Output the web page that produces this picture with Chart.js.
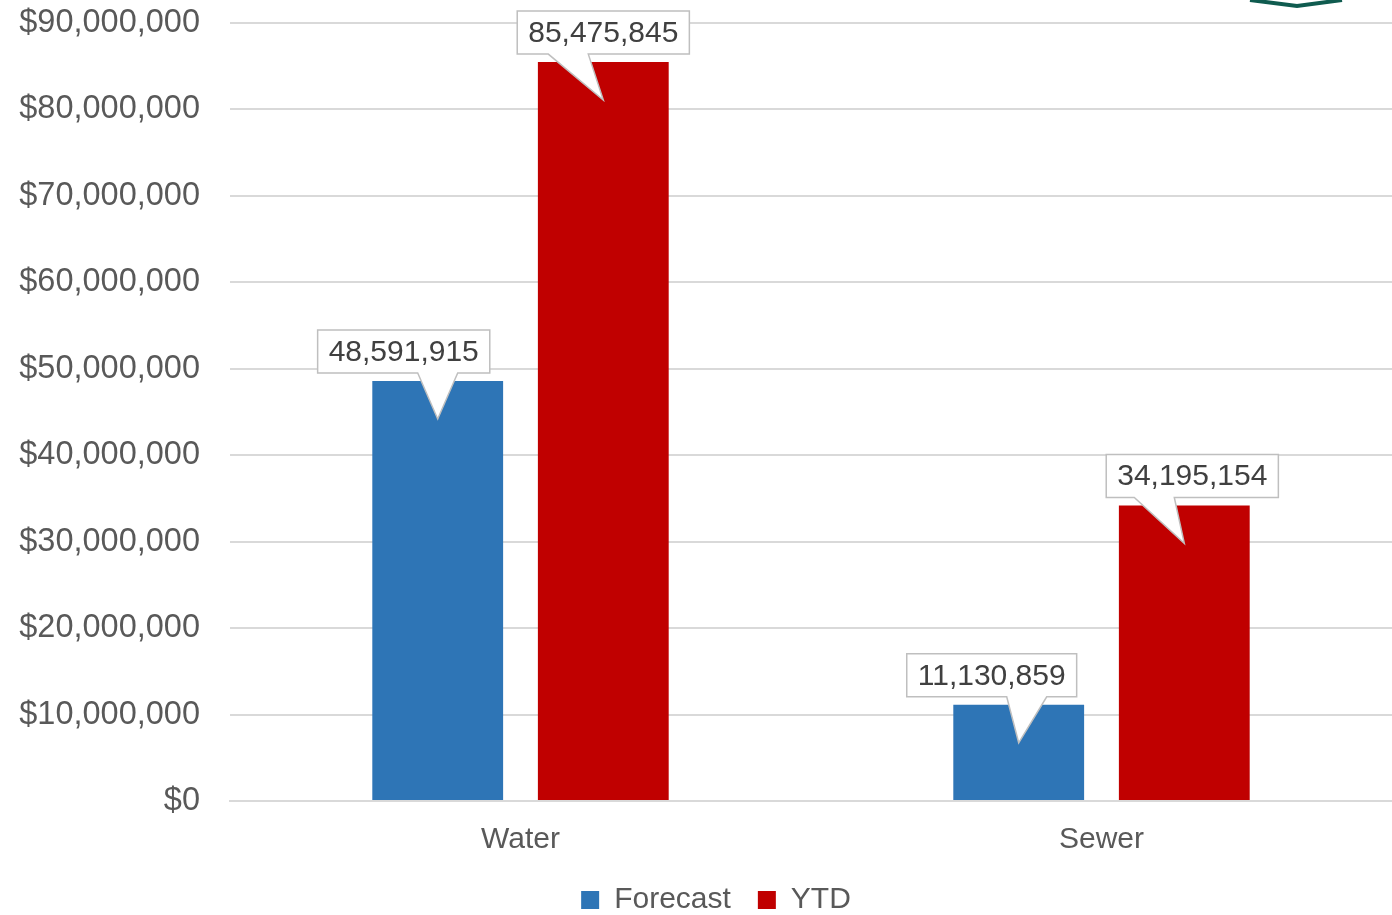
<!DOCTYPE html>
<html>
<head>
<meta charset="utf-8">
<script src="https://cdn.jsdelivr.net/npm/chart.js@4.4.1/dist/chart.umd.min.js"></script>
<style>
  html, body { margin: 0; padding: 0; background: #fff; }
  #chart { display: block; }
</style>
</head>
<body>
<canvas id="chart" width="1392" height="915"></canvas>
<script>
const categories = ['Water', 'Sewer'];
const forecast = [48591915, 11130859];
const ytd = [85475845, 34195154];
const seriesNames = ['Forecast', 'YTD'];

const FONT = '"Liberation Sans", Arial, sans-serif';

// callout tweaks (box x shift, pointer base x shift) per dataset, per bar
const boxShift = [[-34, -27], [0, 8]];
const baseShift = [[0, 8], [-35, -30]];

function fmt(v) {
  return v.toLocaleString('en-US');
}

const calloutPlugin = {
  id: 'callouts',
  afterDatasetsDraw(chart) {
    const ctx = chart.ctx;
    ctx.save();
    ctx.font = '30px ' + FONT;
    chart.data.datasets.forEach((ds, di) => {
      chart.getDatasetMeta(di).data.forEach((bar, i) => {
        const text = fmt(ds.data[i]);
        const w = ctx.measureText(text).width + 22;
        const h = 43;
        const cx = bar.x + boxShift[di][i];
        const bottom = bar.y - 8;
        const left = cx - w / 2, right = cx + w / 2, top = bottom - h;
        const bc = bar.x + baseShift[di][i];
        const tipY = bar.y + 38;

        ctx.beginPath();
        ctx.moveTo(left, top);
        ctx.lineTo(right, top);
        ctx.lineTo(right, bottom);
        ctx.lineTo(bc + 20, bottom);
        ctx.lineTo(bar.x, tipY);
        ctx.lineTo(bc - 20, bottom);
        ctx.lineTo(left, bottom);
        ctx.closePath();
        ctx.fillStyle = '#fff';
        ctx.fill();
        ctx.strokeStyle = '#bfbfbf';
        ctx.lineWidth = 1.5;
        ctx.stroke();

        ctx.fillStyle = '#404040';
        ctx.textAlign = 'center';
        ctx.textBaseline = 'middle';
        ctx.fillText(text, cx, top + h / 2 + 1);
      });
    });
    ctx.restore();
  }
};

// nudge the legend a little right, like the original
const legendNudge = {
  id: 'legendNudge',
  afterLayout(chart) {
    if (chart.legend) {
      chart.legend.left += 20;
      chart.legend.right += 20;
    }
  }
};

// bit of a logo peeking in at the top right
const cornerPlugin = {
  id: 'corner',
  afterDraw(chart) {
    const ctx = chart.ctx;
    ctx.save();
    ctx.strokeStyle = '#0f5b4f';
    ctx.lineWidth = 4;
    ctx.beginPath();
    ctx.moveTo(1250, 0);
    ctx.lineTo(1297, 6);
    ctx.lineTo(1342, 0);
    ctx.stroke();
    ctx.restore();
  }
};

new Chart(document.getElementById('chart'), {
  type: 'bar',
  data: {
    labels: categories,
    datasets: [{
      label: seriesNames[0],
      data: forecast,
      backgroundColor: '#2e75b6',
      categoryPercentage: 0.57,
      barPercentage: 0.79
    }, {
      label: seriesNames[1],
      data: ytd,
      backgroundColor: '#c00000',
      categoryPercentage: 0.57,
      barPercentage: 0.79
    }]
  },
  options: {
    responsive: false,
    animation: false,
    layout: { padding: { top: 23, right: 0, left: 0, bottom: -10 } },
    plugins: {
      legend: {
        position: 'bottom',
        labels: {
          font: { family: FONT, size: 30 },
          color: '#595959',
          boxWidth: 18,
          boxHeight: 18,
          padding: 27
        }
      },
      tooltip: { enabled: false }
    },
    scales: {
      x: {
        grid: { display: false, drawTicks: false },
        border: { color: '#d9d9d9', width: 2 },
        ticks: {
          font: { family: FONT, size: 30 },
          color: '#595959',
          padding: 21
        },
        afterFit(s) { s.height = 57; }
      },
      y: {
        min: 0,
        max: 90000000,
        grid: {
          color: '#d9d9d9',
          lineWidth: 2,
          drawTicks: true,
          tickLength: 30,
          tickColor: 'rgba(0,0,0,0)'
        },
        border: { display: false },
        ticks: {
          stepSize: 10000000,
          font: { family: FONT, size: 32.5 },
          color: '#595959',
          padding: 0,
          callback: v => '$' + fmt(v)
        },
        afterFit(s) { s.width = 230; }
      }
    }
  },
  plugins: [calloutPlugin, legendNudge, cornerPlugin]
});
</script>
</body>
</html>
